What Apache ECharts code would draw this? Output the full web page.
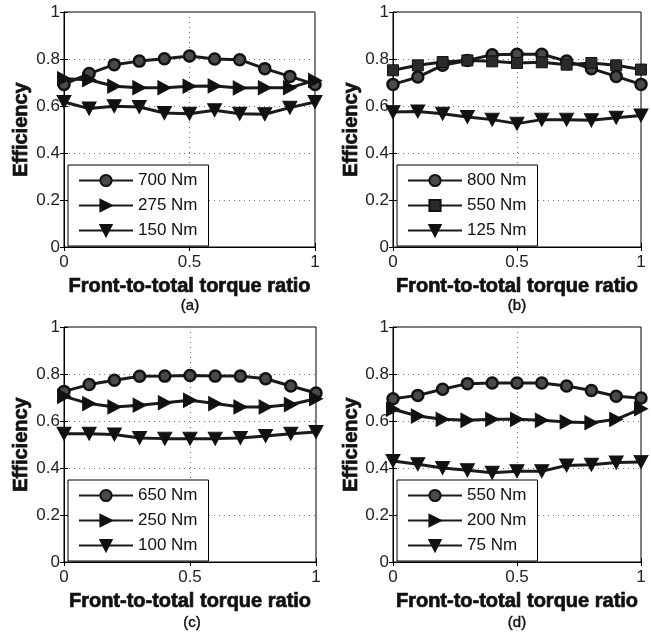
<!DOCTYPE html>
<html>
<head>
<meta charset="utf-8">
<title>Efficiency vs torque ratio</title>
<script src="https://cdn.jsdelivr.net/npm/echarts@6/dist/echarts.min.js"></script>
<style>
  html, body { margin: 0; padding: 0; background: #fff; }
  #main { width: 651px; height: 636px; }
</style>
</head>
<body>
<div id="main"></div>
<script>
// front-to-total torque ratio, shared by all panels
var ratio = [0, 0.1, 0.2, 0.3, 0.4, 0.5, 0.6, 0.7, 0.8, 0.9, 1];

// panel (a)
var a700 = [0.692, 0.738, 0.776, 0.791, 0.801, 0.813, 0.800, 0.797, 0.759, 0.726, 0.692];
var a275 = [0.716, 0.712, 0.684, 0.678, 0.678, 0.684, 0.685, 0.677, 0.678, 0.678, 0.709];
var a150 = [0.617, 0.589, 0.599, 0.596, 0.570, 0.567, 0.582, 0.567, 0.565, 0.593, 0.617];
// panel (b)
var b800 = [0.692, 0.723, 0.773, 0.794, 0.818, 0.820, 0.820, 0.791, 0.759, 0.726, 0.692];
var b550 = [0.752, 0.773, 0.787, 0.794, 0.790, 0.783, 0.786, 0.776, 0.783, 0.773, 0.755];
var b125 = [0.574, 0.577, 0.567, 0.553, 0.542, 0.525, 0.542, 0.542, 0.539, 0.550, 0.560];
// panel (c)
var c650 = [0.726, 0.755, 0.773, 0.790, 0.791, 0.794, 0.791, 0.791, 0.780, 0.749, 0.719];
var c250 = [0.705, 0.674, 0.660, 0.667, 0.678, 0.688, 0.674, 0.660, 0.660, 0.670, 0.695];
var c100 = [0.546, 0.546, 0.543, 0.528, 0.525, 0.525, 0.525, 0.528, 0.536, 0.546, 0.553];
// panel (d)
var d550 = [0.695, 0.709, 0.735, 0.759, 0.762, 0.762, 0.762, 0.749, 0.730, 0.705, 0.698];
var d200 = [0.650, 0.621, 0.607, 0.603, 0.607, 0.607, 0.603, 0.596, 0.593, 0.607, 0.652];
var d75  = [0.430, 0.416, 0.400, 0.390, 0.380, 0.386, 0.386, 0.411, 0.414, 0.423, 0.426];

var yTicks = [0, 0.2, 0.4, 0.6, 0.8, 1];
var xTicks = [0, 0.5, 1];
var panelLabels = ['(a)', '(b)', '(c)', '(d)'];
var yName = 'Efficiency';
var xName = 'Front-to-total torque ratio';

var panels = [
  { key: 'a', lines: [['700 Nm', a700, 'o'], ['275 Nm', a275, '>'], ['150 Nm', a150, 'v']] },
  { key: 'b', lines: [['800 Nm', b800, 'o'], ['550 Nm', b550, 's'], ['125 Nm', b125, 'v']] },
  { key: 'c', lines: [['650 Nm', c650, 'o'], ['250 Nm', c250, '>'], ['100 Nm', c100, 'v']] },
  { key: 'd', lines: [['550 Nm', d550, 'o'], ['200 Nm', d200, '>'], ['75 Nm', d75, 'v']] }
];

var FONT = '"Liberation Sans", Arial, sans-serif';

// layout of the four boxes
var boxes = [
  { left: 64,  top: 12,  width: 251, height: 235, yGap: 33, legendLeft: 68,  legendTop: 165, labelX: 190, labelY: 306 },
  { left: 393, top: 12,  width: 248, height: 235, yGap: 29, legendLeft: 397, legendTop: 165, labelX: 517, labelY: 306 },
  { left: 64,  top: 327, width: 252, height: 235, yGap: 33, legendLeft: 68,  legendTop: 480, labelX: 192, labelY: 623 },
  { left: 393, top: 327, width: 248, height: 235, yGap: 29, legendLeft: 397, legendTop: 480, labelX: 517, labelY: 623 }
];

function markerStyle(m) {
  if (m === 'o') return { symbol: 'circle', symbolSize: 11, itemStyle: { color: '#4a4a4a', borderColor: '#111', borderWidth: 2.5 } };
  if (m === 's') return { symbol: 'rect', symbolSize: 11, itemStyle: { color: '#2a2a2a', borderColor: '#111', borderWidth: 1 } };
  if (m === '>') return { symbol: 'path://M0,0 L10,6 L0,12 Z', symbolSize: [13, 14], itemStyle: { color: '#111', borderColor: '#111', borderWidth: 1 } };
  return { symbol: 'path://M0,0 L12,0 L6,10 Z', symbolSize: [14, 13], itemStyle: { color: '#111', borderColor: '#111', borderWidth: 1 } };
}

var nameStyle = { fontFamily: FONT, fontWeight: 'bold', fontSize: 20, color: '#111',
  textBorderColor: '#111', textBorderWidth: 0.7 };

var grid = [], xAxis = [], yAxis = [], series = [], legend = [], graphic = [];
var xMirror = [], yMirror = [];

panels.forEach(function (p, i) {
  var b = boxes[i];
  grid.push({ left: b.left, top: b.top, width: b.width, height: b.height,
    show: true, borderColor: '#000', borderWidth: 1, backgroundColor: 'transparent' });
  xAxis.push({
    gridIndex: i, type: 'value', min: 0, max: 1, interval: 0.5,
    name: xName, nameLocation: 'middle', nameGap: 29,
    nameTextStyle: nameStyle,
    axisLine: { show: true, onZero: false, lineStyle: { color: '#000', width: 1 } },
    axisTick: { show: true, inside: true, length: 4, lineStyle: { color: '#000' } },
    axisLabel: { fontFamily: FONT, fontSize: 17, color: '#222', margin: 7,
      formatter: function (v) { return xTicks.indexOf(v) >= 0 ? String(v) : ''; } },
    splitLine: { show: true, lineStyle: { type: [1, 4], color: '#777', width: 1 } }
  });
  yAxis.push({
    gridIndex: i, type: 'value', min: 0, max: 1, interval: 0.2,
    name: yName, nameLocation: 'middle', nameGap: b.yGap, nameRotate: 90,
    nameTextStyle: nameStyle,
    axisLine: { show: true, onZero: false, lineStyle: { color: '#000', width: 1 } },
    axisTick: { show: true, inside: true, length: 4, lineStyle: { color: '#000' } },
    axisLabel: { fontFamily: FONT, fontSize: 17, color: '#222', margin: 4,
      formatter: function (v) {
        var r = Math.round(v * 10) / 10;
        return yTicks.indexOf(r) >= 0 ? String(r) : '';
      } },
    splitLine: { show: true, lineStyle: { type: [1, 4], color: '#777', width: 1 } }
  });
  // tick marks on the top and right edges of each box
  xMirror.push({ gridIndex: i, type: 'value', min: 0, max: 1, interval: 0.5, position: 'top',
    axisLine: { show: false }, axisLabel: { show: false }, splitLine: { show: false },
    axisTick: { show: true, inside: true, length: 4, lineStyle: { color: '#000' } } });
  yMirror.push({ gridIndex: i, type: 'value', min: 0, max: 1, interval: 0.2, position: 'right',
    axisLine: { show: false }, axisLabel: { show: false }, splitLine: { show: false },
    axisTick: { show: true, inside: true, length: 4, lineStyle: { color: '#000' } } });

  var names = [];
  p.lines.forEach(function (ln) {
    var id = p.key + '|' + ln[0];
    names.push(id);
    var ms = markerStyle(ln[2]);
    series.push({
      type: 'line', name: id, xAxisIndex: i, yAxisIndex: i,
      data: ratio.map(function (x, k) { return [x, ln[1][k]]; }),
      symbol: ms.symbol, symbolSize: ms.symbolSize, showAllSymbol: true,
      itemStyle: ms.itemStyle,
      lineStyle: { color: '#1a1a1a', width: 3 },
      animation: false, z: 3
    });
  });

  legend.push({
    data: names, orient: 'vertical', left: b.legendLeft, top: b.legendTop,
    backgroundColor: '#fff', borderColor: '#000', borderWidth: 1,
    padding: [7, 11, 7, 10], itemGap: 8, itemWidth: 54, itemHeight: 14, itemTextGap: 6,
    selectedMode: false,
    textStyle: { fontFamily: FONT, fontSize: 17, color: '#111' },
    formatter: function (n) { return n.split('|')[1]; }
  });

  graphic.push({
    type: 'text', x: b.labelX, y: b.labelY,
    style: { text: panelLabels[i], font: '15px ' + FONT, fill: '#111',
      stroke: '#111', lineWidth: 0.4,
      textAlign: 'center', textVerticalAlign: 'middle' }
  });
});

var chart = echarts.init(document.getElementById('main'));
chart.setOption({
  backgroundColor: '#fff',
  animation: false,
  grid: grid, xAxis: xAxis.concat(xMirror), yAxis: yAxis.concat(yMirror),
  legend: legend, series: series, graphic: graphic
});
</script>
</body>
</html>
